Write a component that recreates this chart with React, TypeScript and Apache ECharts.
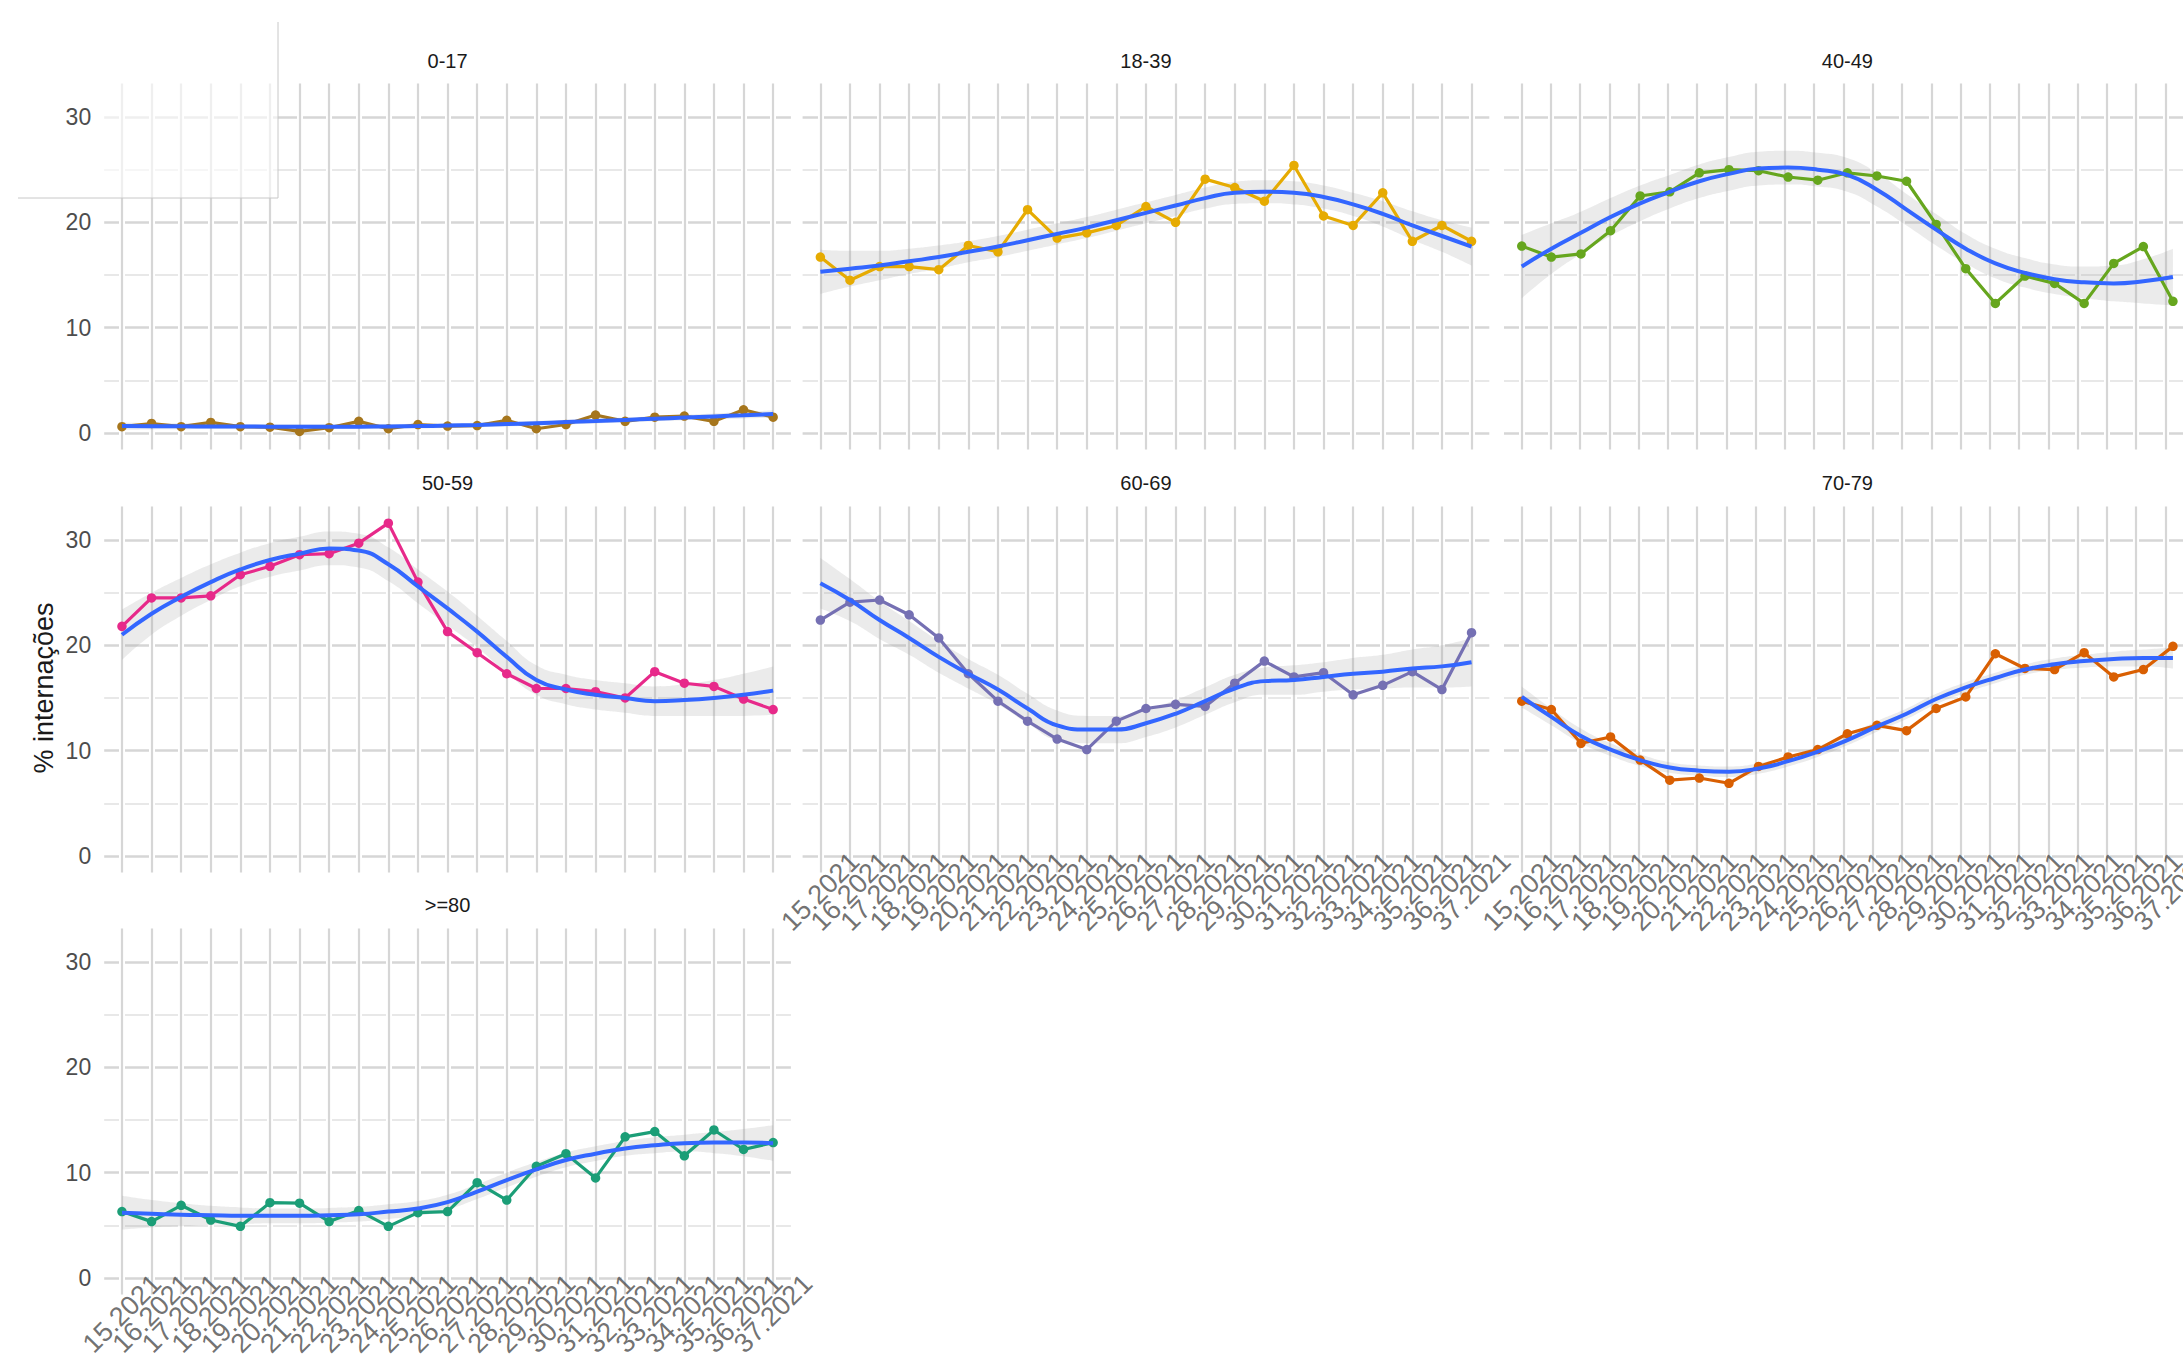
import React, { useEffect, useRef } from "react";
import * as echarts from "echarts";

// ---------- data ----------
const weeks = [
  "15.2021", "16.2021", "17.2021", "18.2021", "19.2021", "20.2021", "21.2021", "22.2021",
  "23.2021", "24.2021", "25.2021", "26.2021", "27.2021", "28.2021", "29.2021", "30.2021",
  "31.2021", "32.2021", "33.2021", "34.2021", "35.2021", "36.2021", "37.2021",
];
const groups = ["0-17", "18-39", "40-49", "50-59", "60-69", "70-79", ">=80"];
const yTicks = [0, 10, 20, 30];
const yGrid = [0, 5, 10, 15, 20, 25, 30];

// % internações per week
const pct_0_17 = [0.6, 0.9, 0.6, 1.0, 0.6, 0.55, 0.15, 0.5, 1.1, 0.4, 0.8, 0.65, 0.7, 1.2, 0.4, 0.8, 1.7, 1.1, 1.5, 1.6, 1.1, 2.2, 1.5];
const pct_18_39 = [16.7, 14.5, 15.8, 15.8, 15.5, 17.8, 17.2, 21.2, 18.5, 19.0, 19.7, 21.5, 20.0, 24.1, 23.3, 22.0, 25.4, 20.6, 19.7, 22.8, 18.2, 19.7, 18.2];
const pct_40_49 = [17.75, 16.7, 17.0, 19.2, 22.5, 22.9, 24.7, 25.0, 24.9, 24.3, 24.0, 24.7, 24.4, 23.9, 19.8, 15.6, 12.3, 14.9, 14.2, 12.3, 16.1, 17.7, 12.5];
const pct_50_59 = [21.8, 24.5, 24.5, 24.7, 26.7, 27.5, 28.6, 28.7, 29.7, 31.6, 26.0, 21.3, 19.3, 17.3, 15.9, 15.9, 15.6, 15.0, 17.5, 16.4, 16.1, 14.9, 13.9];
const pct_60_69 = [22.4, 24.1, 24.3, 22.9, 20.7, 17.3, 14.7, 12.8, 11.1, 10.1, 12.8, 14.0, 14.4, 14.2, 16.4, 18.5, 17.0, 17.4, 15.3, 16.2, 17.5, 15.8, 21.2];
const pct_70_79 = [14.7, 13.9, 10.7, 11.3, 9.1, 7.2, 7.4, 6.9, 8.5, 9.4, 10.1, 11.6, 12.4, 11.9, 14.0, 15.1, 19.2, 17.8, 17.7, 19.3, 17.0, 17.7, 19.9];
const pct_80 = [6.3, 5.35, 6.9, 5.5, 4.9, 7.15, 7.1, 5.35, 6.4, 4.9, 6.2, 6.3, 9.05, 7.4, 10.6, 11.8, 9.5, 13.4, 13.9, 11.6, 14.05, 12.2, 12.85];

// smoothed (loess) fit
const fit_0_17 = [0.65, 0.64, 0.63, 0.62, 0.61, 0.6, 0.59, 0.59, 0.6, 0.62, 0.65, 0.7, 0.76, 0.84, 0.93, 1.03, 1.13, 1.24, 1.35, 1.46, 1.57, 1.68, 1.8];
const fit_18_39 = [15.3, 15.6, 15.9, 16.3, 16.7, 17.2, 17.7, 18.3, 18.9, 19.5, 20.2, 20.9, 21.6, 22.3, 22.8, 22.9, 22.8, 22.4, 21.7, 20.8, 19.7, 18.7, 17.7];
const fit_40_49 = [15.8, 17.5, 19.0, 20.5, 21.8, 22.9, 23.9, 24.6, 25.1, 25.2, 25.0, 24.5, 23.1, 21.2, 19.3, 17.5, 16.1, 15.2, 14.6, 14.3, 14.2, 14.4, 14.8];
const fit_50_59 = [21.0, 23.0, 24.6, 26.0, 27.2, 28.1, 28.7, 29.2, 29.0, 27.7, 25.6, 23.5, 21.3, 18.9, 16.7, 15.8, 15.3, 15.0, 14.7, 14.8, 15.0, 15.3, 15.7];
const fit_60_69 = [25.9, 24.3, 22.4, 20.7, 18.9, 17.3, 15.8, 14.0, 12.4, 12.0, 12.0, 12.6, 13.5, 14.7, 15.9, 16.6, 16.7, 17.0, 17.3, 17.5, 17.8, 18.0, 18.4];
const fit_70_79 = [15.1, 13.2, 11.4, 10.1, 9.1, 8.4, 8.1, 8.0, 8.3, 9.0, 9.9, 11.0, 12.3, 13.5, 14.9, 16.0, 16.9, 17.7, 18.2, 18.5, 18.7, 18.8, 18.8];
const fit_80 = [6.2, 6.1, 6.0, 5.95, 5.9, 5.9, 5.9, 5.95, 6.05, 6.3, 6.6, 7.2, 8.2, 9.3, 10.3, 11.2, 11.8, 12.3, 12.6, 12.8, 12.85, 12.85, 12.8];

// half-width of the confidence band
const ci_0_17 = [0.35, 0.3, 0.28, 0.25, 0.24, 0.23, 0.23, 0.23, 0.23, 0.22, 0.22, 0.22, 0.22, 0.22, 0.22, 0.22, 0.23, 0.23, 0.24, 0.25, 0.27, 0.3, 0.35];
const ci_18_39 = [2.1, 1.7, 1.4, 1.2, 1.1, 1.0, 1.0, 1.0, 1.0, 1.0, 1.0, 1.0, 1.0, 1.0, 1.05, 1.1, 1.1, 1.1, 1.1, 1.2, 1.35, 1.5, 1.8];
const ci_40_49 = [3.0, 2.4, 2.0, 1.8, 1.7, 1.6, 1.6, 1.6, 1.6, 1.6, 1.6, 1.6, 1.6, 1.5, 1.5, 1.4, 1.4, 1.4, 1.4, 1.5, 1.7, 2.1, 2.7];
const ci_50_59 = [2.4, 2.0, 1.8, 1.7, 1.6, 1.6, 1.6, 1.6, 1.6, 1.6, 1.6, 1.6, 1.5, 1.5, 1.4, 1.4, 1.4, 1.4, 1.4, 1.5, 1.7, 2.0, 2.3];
const ci_60_69 = [2.4, 2.0, 1.8, 1.6, 1.5, 1.4, 1.4, 1.4, 1.4, 1.3, 1.3, 1.3, 1.3, 1.3, 1.3, 1.3, 1.4, 1.4, 1.5, 1.6, 1.8, 2.0, 2.3];
const ci_70_79 = [1.0, 0.8, 0.7, 0.6, 0.55, 0.5, 0.5, 0.5, 0.5, 0.5, 0.5, 0.5, 0.5, 0.5, 0.5, 0.5, 0.5, 0.5, 0.55, 0.6, 0.7, 0.8, 1.0];
const ci_80 = [1.6, 1.3, 1.1, 0.9, 0.8, 0.7, 0.7, 0.7, 0.7, 0.7, 0.7, 0.7, 0.7, 0.7, 0.7, 0.7, 0.7, 0.7, 0.75, 0.8, 1.0, 1.3, 1.7];

const values = [pct_0_17, pct_18_39, pct_40_49, pct_50_59, pct_60_69, pct_70_79, pct_80];
const fits = [fit_0_17, fit_18_39, fit_40_49, fit_50_59, fit_60_69, fit_70_79, fit_80];
const cis = [ci_0_17, ci_18_39, ci_40_49, ci_50_59, ci_60_69, ci_70_79, ci_80];

// ---------- style ----------
const colors = ["#A6761D", "#E6AB02", "#66A61E", "#E7298A", "#7570B3", "#D95F02", "#1B9E77"];
const FONT = "'Liberation Sans', Arial, Helvetica, sans-serif";
const W = 2183;
const H = 1355;
const colLeft = [104.2, 802.6, 1504.0];
const rowTop = [83.5, 506.5, 928.5];
const panelW = 686.7;
const panelH = 366.1;
const X_MIN = -0.6;
const X_MAX = 22.6;
const Y_MIN = -1.58;
const Y_MAX = 33.18;
const titleY = [61, 483, 905];
const showXLabels = [false, false, false, false, true, true, true];

function buildOption() {
  const grid: any[] = [];
  const xAxis: any[] = [];
  const yAxis: any[] = [];
  const series: any[] = [];
  const graphic: any[] = [];
  const idx = weeks.map((_, i) => i);
  const step = panelW / (X_MAX - X_MIN);

  groups.forEach((g, k) => {
    const col = k % 3;
    const row = Math.floor(k / 3);
    const left = colLeft[col];
    const top = rowTop[row];
    const gOuter = 2 * k;
    const gInner = 2 * k + 1;

    // outer grid: whole panel, carries grid lines and y labels
    grid.push({ left, top, width: panelW, height: panelH, show: false, containLabel: false });
    // inner grid: from first to last week, carries the data
    grid.push({
      left: left - X_MIN * step,
      top,
      width: (weeks.length - 1) * step,
      height: panelH,
      show: false,
      containLabel: false,
    });

    xAxis.push({
      type: "value",
      gridIndex: gOuter,
      min: X_MIN,
      max: X_MAX,
      axisLine: { show: false, onZero: false },
      axisTick: { show: false },
      splitLine: { show: false },
      axisLabel: { show: false },
    });
    xAxis.push({
      type: "category",
      gridIndex: gInner,
      data: weeks,
      boundaryGap: false,
      show: false,
    });
    yAxis.push({
      type: "value",
      gridIndex: gOuter,
      min: Y_MIN,
      max: Y_MAX,
      z: 5,
      axisLine: { show: false, onZero: false },
      axisTick: { show: false },
      splitLine: { show: false },
      axisLabel: {
        show: col === 0,
        customValues: yTicks,
        fontSize: 23,
        color: "#4d4d4d",
        fontFamily: FONT,
        margin: 13,
        showMinLabel: true,
        showMaxLabel: true,
      },
    });
    yAxis.push({
      type: "value",
      gridIndex: gInner,
      min: Y_MIN,
      max: Y_MAX,
      show: false,
      splitLine: { show: false },
    });

    // grid lines
    const lines: any[] = [];
    yGrid.forEach((v) => {
      lines.push({
        yAxis: v,
        lineStyle: { color: v % 10 === 0 ? "#d6d6d6" : "#e8e8e8", width: v % 10 === 0 ? 2.6 : 2.2, type: "solid" },
      });
    });
    idx.forEach((i) => {
      lines.push({ xAxis: i, lineStyle: { color: "#ffffff", width: 6, type: "solid" } });
    });
    idx.forEach((i) => {
      lines.push({ xAxis: i, lineStyle: { color: "#d6d6d6", width: 2.2, type: "solid" } });
    });
    series.push({
      type: "line",
      xAxisIndex: gOuter,
      yAxisIndex: gOuter,
      data: [[X_MIN - 5, Y_MIN - 5]],
      symbol: "none",
      lineStyle: { opacity: 0 },
      silent: true,
      z: 1,
      markLine: {
        z: 1,
        silent: true,
        symbol: ["none", "none"],
        label: { show: false },
        emphasis: { disabled: true },
        data: lines,
      },
    });

    // confidence band
    const fit = fits[k];
    const ci = cis[k];
    series.push({
      type: "line",
      xAxisIndex: gInner,
      yAxisIndex: gInner,
      stack: "band" + k,
      data: idx.map((i) => fit[i] - ci[i]),
      symbol: "none",
      smooth: true,
      lineStyle: { opacity: 0 },
      silent: true,
      z: 2,
    });
    series.push({
      type: "line",
      xAxisIndex: gInner,
      yAxisIndex: gInner,
      stack: "band" + k,
      data: idx.map((i) => 2 * ci[i]),
      symbol: "none",
      smooth: true,
      lineStyle: { opacity: 0 },
      areaStyle: { color: "rgba(153,153,153,0.2)", opacity: 1 },
      silent: true,
      z: 2,
    });

    // observed
    series.push({
      type: "line",
      xAxisIndex: gInner,
      yAxisIndex: gInner,
      data: values[k],
      symbol: "circle",
      symbolSize: 9.5,
      showAllSymbol: true,
      itemStyle: { color: colors[k] },
      lineStyle: { color: colors[k], width: 3.2 },
      z: 3,
    });

    // smooth
    series.push({
      type: "line",
      xAxisIndex: gInner,
      yAxisIndex: gInner,
      data: fit,
      symbol: "none",
      smooth: true,
      lineStyle: { color: "#3366FF", width: 4 },
      z: 4,
    });

    // week labels under the bottom panels of each column
    if (showXLabels[k]) {
      series.push({
        type: "scatter",
        xAxisIndex: gInner,
        yAxisIndex: gInner,
        data: idx.map((i) => [i, Y_MIN]),
        symbolSize: 0,
        clip: false,
        silent: true,
        z: 6,
        label: {
          show: true,
          position: "bottom",
          distance: 19,
          offset: [10, 0],
          rotate: 45,
          align: "center",
          verticalAlign: "middle",
          formatter: (p: any) => weeks[p.dataIndex],
          fontSize: 27,
          color: "#4d4d4d",
          fontFamily: FONT,
        },
        labelLayout: { hideOverlap: false },
      });
    }

    graphic.push({
      type: "text",
      x: left + panelW / 2,
      y: titleY[row],
      z: 10,
      style: {
        text: g,
        fontSize: 20,
        fill: "#1a1a1a",
        fontFamily: FONT,
        align: "center",
        verticalAlign: "middle",
      },
    });
  });

  // legend box (cut off at the top)
  graphic.push({
    type: "rect",
    shape: { x: 0, y: 0, width: 278, height: 198 },
    style: { fill: "rgba(255,255,255,0.6)" },
    z: 1.5,
  });
  graphic.push({
    type: "line",
    shape: { x1: 278, y1: 22, x2: 278, y2: 198 },
    style: { stroke: "#c8c8c8", lineWidth: 1 },
    z: 6,
  });
  graphic.push({
    type: "line",
    shape: { x1: 18, y1: 198, x2: 278, y2: 198 },
    style: { stroke: "#c8c8c8", lineWidth: 1 },
    z: 6,
  });

  // y axis title
  graphic.push({
    type: "text",
    x: 44,
    y: 688,
    rotation: Math.PI / 2,
    z: 10,
    style: {
      text: "% internações",
      fontSize: 27,
      fill: "#1a1a1a",
      fontFamily: FONT,
      align: "center",
      verticalAlign: "middle",
    },
  });

  return {
    animation: false,
    backgroundColor: "#ffffff",
    grid,
    xAxis,
    yAxis,
    series,
    graphic,
  };
}

export default function App() {
  const ref = useRef<HTMLDivElement>(null);
  useEffect(() => {
    if (!ref.current) return;
    const chart = echarts.init(ref.current, undefined, { renderer: "svg" });
    chart.setOption(buildOption() as any);
    return () => {
      chart.dispose();
    };
  }, []);
  return (
    <div
      ref={ref}
      style={{ position: "absolute", left: 0, top: 0, width: W, height: H, overflow: "hidden" }}
    />
  );
}
